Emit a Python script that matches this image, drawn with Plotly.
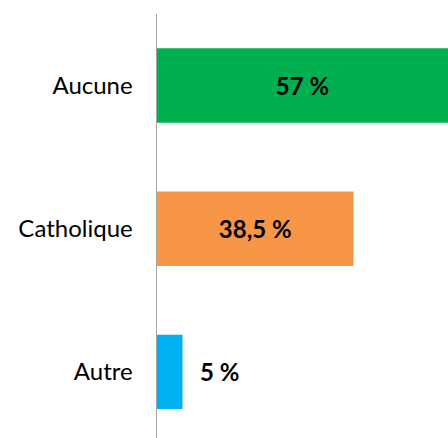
import plotly.graph_objects as go

categories = ["Aucune", "Catholique", "Autre"]
values = [57, 38.5, 5]
labels = ["57 %", "38,5 %", "5 %"]
colors = ["#00B050", "#F79646", "#00B0F0"]

FONT = "Lato"

fig = go.Figure()
fig.add_trace(go.Bar(
    y=categories,
    x=values,
    orientation="h",
    marker=dict(color=colors, line=dict(width=0)),
    width=0.52,
    text=[labels[0], labels[1], ""],
    textposition="inside",
    insidetextanchor="middle",
    textangle=0,
    textfont=dict(family=FONT, size=24, color="black", weight="bold"),
    hoverinfo="skip",
))

fig.add_annotation(
    x=values[2], y=categories[2], xref="x", yref="y",
    text="<b>" + labels[2] + "</b>", showarrow=False,
    xanchor="left", xshift=15,
    font=dict(family=FONT, size=24, color="black"),
)

fig.update_layout(
    width=448, height=438,
    margin=dict(l=157, r=0, t=14, b=0),
    paper_bgcolor="white", plot_bgcolor="white",
    showlegend=False,
    font=dict(family=FONT, color="black"),
    xaxis=dict(range=[0, 57], visible=False, fixedrange=True),
    yaxis=dict(
        type="category",
        categoryorder="array", categoryarray=categories,
        range=[2.462, -0.5],
        showline=True, linecolor="#A6A6A6", linewidth=1.5,
        showgrid=False, zeroline=False,
        ticks="", ticklabelstandoff=18,
        tickfont=dict(family=FONT, size=24, color="black"),
    ),
)

fig.write_html(
    "out.html",
    config={"displayModeBar": False, "staticPlot": True},
    post_script="document.body.style.margin='0';document.body.style.overflow='hidden';",
)
